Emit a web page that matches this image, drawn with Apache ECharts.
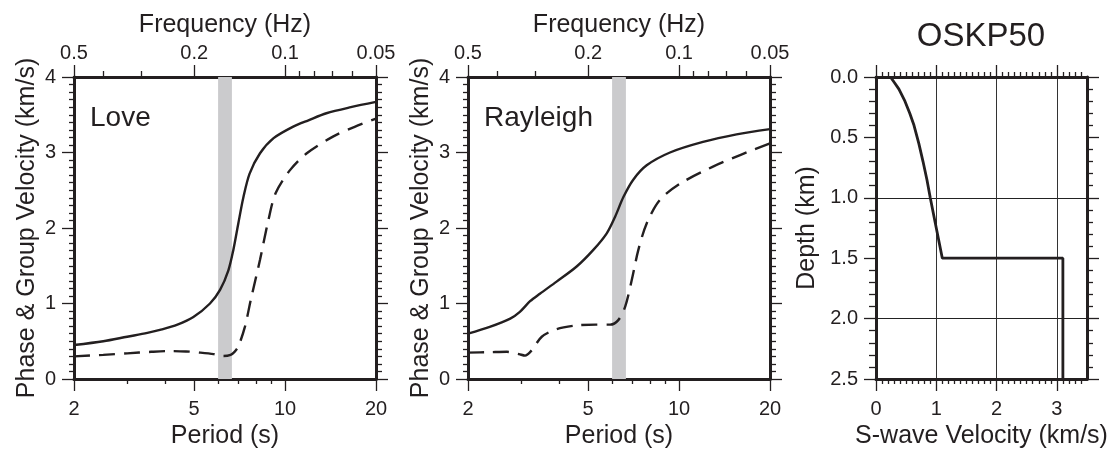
<!DOCTYPE html>
<html><head><meta charset="utf-8">
<script src="https://cdn.jsdelivr.net/npm/echarts@6/dist/echarts.min.js"></script>
<style>html,body{margin:0;padding:0;background:#fff}#c{width:1112px;height:449px}</style>
</head><body><div id="c"></div>
<script>
// ---- data ----
const periodMajorTicks = [2, 5, 10, 20];
const periodMinorTicks = [3, 4, 6, 7, 8, 9];
const freqMajorTicks = [0.5, 0.2, 0.1, 0.05];
const freqMinorTicks = [0.4, 0.3, 0.09, 0.08, 0.07, 0.06];
const band = [6.0, 6.667];

const lovePhaseP = [2.0, 2.5, 3.0, 3.5, 3.85, 4.4, 4.97, 5.64, 6.09, 6.49, 6.74, 7.0, 7.28, 7.63, 8.26, 9.16, 10.6, 12.0, 13.7, 16.5, 20];
const lovePhaseV = [0.45, 0.5, 0.56, 0.61, 0.65, 0.72, 0.82, 1.0, 1.18, 1.44, 1.71, 2.06, 2.41, 2.72, 2.99, 3.19, 3.34, 3.43, 3.52, 3.6, 3.67];
const loveGroupP = [2.0, 2.5, 3.0, 3.6, 4.16, 4.7, 5.22, 5.8, 6.25, 6.6, 6.8, 7.0, 7.36, 7.7, 8.26, 8.8, 9.3, 10.4, 11.8, 14.4, 17.0, 20];
const loveGroupV = [0.3, 0.32, 0.34, 0.36, 0.37, 0.365, 0.35, 0.33, 0.305, 0.32, 0.36, 0.43, 0.69, 1.05, 1.58, 2.1, 2.46, 2.77, 2.99, 3.21, 3.34, 3.45];

const rayPhaseP = [2.0, 2.36, 2.76, 2.97, 3.21, 3.46, 3.93, 4.58, 5.2, 5.76, 6.14, 6.54, 7.05, 7.81, 9.33, 12.0, 15.5, 20];
const rayPhaseV = [0.6, 0.69, 0.8, 0.89, 1.03, 1.13, 1.29, 1.49, 1.71, 1.93, 2.15, 2.41, 2.64, 2.83, 3.0, 3.14, 3.24, 3.31];
const rayGroupP = [2.0, 2.35, 2.69, 2.95, 3.09, 3.25, 3.51, 3.93, 4.58, 5.3, 5.91, 6.29, 6.63, 6.97, 7.33, 7.81, 8.63, 10.1, 12.9, 16.0, 20];
const rayGroupV = [0.35, 0.355, 0.36, 0.33, 0.31, 0.38, 0.56, 0.66, 0.71, 0.72, 0.72, 0.78, 0.96, 1.31, 1.71, 2.06, 2.37, 2.59, 2.81, 2.97, 3.12];

const vsDepth = [0, 0.05, 0.1, 0.2, 0.3, 0.4, 0.55, 0.7, 0.85, 1.0, 1.2, 1.5, 1.5, 2.5];
const vsVel = [0.24, 0.31, 0.38, 0.48, 0.56, 0.63, 0.71, 0.78, 0.845, 0.9, 0.98, 1.1, 3.1, 3.1];

// ---- chart ----
const FONT = 'Liberation Sans';
const INK = '#231f20';
const FRAME = 3;
const pairs = (xs, ys) => xs.map((x, i) => [x, ys[i]]);
const fmt = v => String(+(+v).toPrecision(3));

const grids = [
  {left: 74, top: 77, width: 302, height: 302, outerBoundsMode: 'none', containLabel: false},
  {left: 468, top: 77, width: 302, height: 302, outerBoundsMode: 'none', containLabel: false},
  {left: 876, top: 77, width: 211, height: 302, outerBoundsMode: 'none', containLabel: false}
];

const xAxes = [], yAxes = [], series = [];
const lineAx = {show: true, onZero: false, lineStyle: {color: INK, width: FRAME}};
const noLine = {show: false, onZero: false};
const labelStyle = {fontFamily: FONT, fontSize: 20, color: INK};
const nameStyle = {fontFamily: FONT, fontSize: 25, color: INK};
const tk = {color: INK, width: 1.3};

[0, 1].forEach(g => {
  const base = xAxes.length;
  xAxes.push({type: 'log', gridIndex: g, min: 2, max: 20, position: 'bottom',
    axisLine: lineAx, splitLine: {show: false},
    axisTick: {show: true, length: 12, customValues: periodMajorTicks, lineStyle: tk},
    axisLabel: {show: true, customValues: periodMajorTicks, formatter: fmt, margin: 20, ...labelStyle},
    name: 'Period (s)', nameLocation: 'middle', nameGap: 42, nameTextStyle: nameStyle});
  xAxes.push({type: 'log', gridIndex: g, min: 2, max: 20, position: 'bottom',
    axisLine: noLine, splitLine: {show: false},
    axisTick: {show: true, length: 5, customValues: periodMinorTicks, lineStyle: tk},
    axisLabel: {show: false}});
  xAxes.push({type: 'log', gridIndex: g, min: 0.05, max: 0.5, inverse: true, position: 'top',
    axisLine: lineAx, splitLine: {show: false},
    axisTick: {show: true, length: 12, customValues: freqMajorTicks, lineStyle: tk},
    axisLabel: {show: true, customValues: freqMajorTicks, formatter: fmt, margin: 14, ...labelStyle},
    name: 'Frequency (Hz)', nameLocation: 'middle', nameGap: 33, nameTextStyle: nameStyle});
  xAxes.push({type: 'log', gridIndex: g, min: 0.05, max: 0.5, inverse: true, position: 'top',
    axisLine: noLine, splitLine: {show: false},
    axisTick: {show: true, length: 6, customValues: freqMinorTicks, lineStyle: tk},
    axisLabel: {show: false}});
  const yb = yAxes.length;
  yAxes.push({type: 'value', gridIndex: g, min: 0, max: 4, interval: 1, position: 'left',
    axisLine: lineAx, splitLine: {show: false},
    axisTick: {show: true, length: 12, lineStyle: tk},
    minorTick: {show: true, splitNumber: 10, length: 5, lineStyle: tk},
    axisLabel: {show: true, margin: 18, ...labelStyle},
    name: 'Phase & Group Velocity (km/s)', nameLocation: 'middle', nameGap: 34, nameTextStyle: nameStyle});
  yAxes.push({type: 'value', gridIndex: g, min: 0, max: 4, interval: 1, position: 'right',
    axisLine: lineAx, splitLine: {show: false},
    axisTick: {show: true, length: 12, lineStyle: tk},
    minorTick: {show: true, splitNumber: 10, length: 6, lineStyle: tk},
    axisLabel: {show: false}});
  const ph = g === 0 ? pairs(lovePhaseP, lovePhaseV) : pairs(rayPhaseP, rayPhaseV);
  const gr = g === 0 ? pairs(loveGroupP, loveGroupV) : pairs(rayGroupP, rayGroupV);
  series.push({type: 'line', xAxisIndex: base, yAxisIndex: yb, data: [], z: 1, silent: true,
    markArea: {silent: true, itemStyle: {color: '#cbcbcd', opacity: 1},
      data: [[{xAxis: band[0]}, {xAxis: band[1]}]]}});
  series.push({type: 'line', xAxisIndex: base, yAxisIndex: yb, data: ph, smooth: 0.3, symbol: 'none', z: 3,
    lineStyle: {color: INK, width: 2.4}});
  series.push({type: 'line', xAxisIndex: base, yAxisIndex: yb, data: gr, smooth: 0.3, symbol: 'none', z: 3,
    lineStyle: {color: INK, width: 2.4, type: [16, 9]}});
});

// right panel
const xr = xAxes.length;
xAxes.push({type: 'value', gridIndex: 2, min: 0, max: 3.5, interval: 1, position: 'bottom',
  axisLine: lineAx,
  splitLine: {show: true, lineStyle: {color: '#333', width: 1}},
  axisTick: {show: true, length: 12, customValues: [0, 1, 2, 3], lineStyle: tk},
  minorTick: {show: true, splitNumber: 10, length: 5, lineStyle: tk},
  axisLabel: {show: true, customValues: [0, 1, 2, 3], margin: 20, ...labelStyle},
  name: 'S-wave Velocity (km/s)', nameLocation: 'middle', nameGap: 42, nameTextStyle: nameStyle});
xAxes.push({type: 'value', gridIndex: 2, min: 0, max: 3.5, interval: 1, position: 'top',
  axisLine: lineAx, splitLine: {show: false},
  axisTick: {show: true, length: 12, customValues: [0, 1, 2, 3], lineStyle: tk},
  minorTick: {show: true, splitNumber: 10, length: 5, lineStyle: tk},
  axisLabel: {show: false}});
const yr = yAxes.length;
yAxes.push({type: 'value', gridIndex: 2, min: 0, max: 2.5, interval: 0.5, inverse: true, position: 'left',
  axisLine: lineAx, splitLine: {show: false},
  axisTick: {show: true, length: 12, lineStyle: tk},
  minorTick: {show: true, splitNumber: 5, length: 7, lineStyle: tk},
  axisLabel: {show: true, margin: 18, formatter: v => v.toFixed(1), ...labelStyle},
  name: 'Depth (km)', nameLocation: 'middle', nameGap: 56, nameTextStyle: nameStyle});
yAxes.push({type: 'value', gridIndex: 2, min: 0, max: 2.5, interval: 0.5, inverse: true, position: 'right',
  axisLine: lineAx, splitLine: {show: false},
  axisTick: {show: true, length: 12, lineStyle: tk},
  minorTick: {show: true, splitNumber: 5, length: 6, lineStyle: tk},
  axisLabel: {show: false}});
yAxes.push({type: 'value', gridIndex: 2, min: 0, max: 2.5, interval: 1, inverse: true, position: 'left',
  axisLine: noLine, axisTick: {show: false}, axisLabel: {show: false},
  splitLine: {show: true, lineStyle: {color: '#222', width: 1}}});
series.push({type: 'line', xAxisIndex: xr, yAxisIndex: yr, data: pairs(vsVel, vsDepth), symbol: 'none', z: 3,
  lineStyle: {color: INK, width: 2.8}});

const tStyle = {fontFamily: FONT, fontWeight: 'normal', color: INK};
const option = {
  backgroundColor: '#fff',
  animation: false,
  grid: grids,
  xAxis: xAxes,
  yAxis: yAxes,
  title: [
    {text: 'Love', left: 90, top: 104, padding: 0, textStyle: {...tStyle, fontSize: 28}},
    {text: 'Rayleigh', left: 484, top: 104, padding: 0, textStyle: {...tStyle, fontSize: 28}},
    {text: 'OSKP50', left: 981, textAlign: 'center', top: 20, padding: 0, textStyle: {...tStyle, fontSize: 33}}
  ],
  series: series
};
const chart = echarts.init(document.getElementById('c'), null, {renderer: 'canvas'});
chart.setOption(option);
</script></body></html>
